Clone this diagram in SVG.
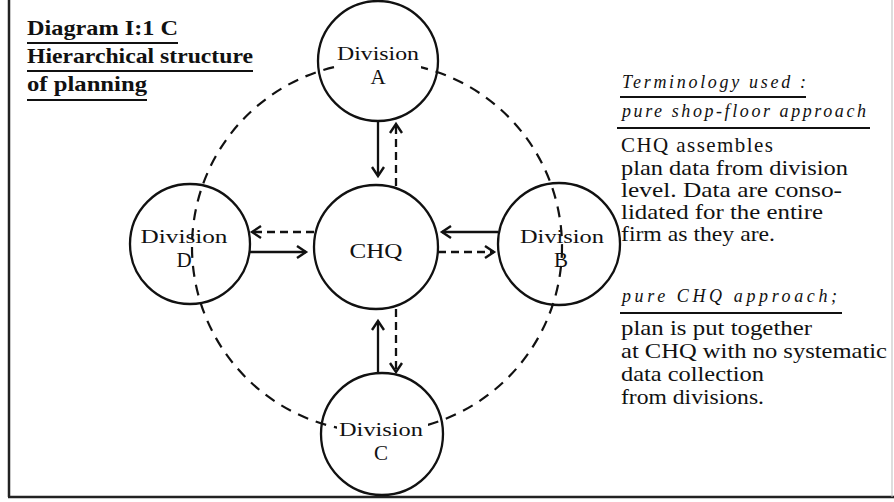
<svg xmlns="http://www.w3.org/2000/svg" width="894" height="502" viewBox="0 0 894 502">
<defs>
<marker id="ah" markerUnits="userSpaceOnUse" markerWidth="14" markerHeight="14" refX="11" refY="7" orient="auto">
<path d="M2,1 L11,7 L2,13" fill="none" stroke="#111" stroke-width="2.4" stroke-linejoin="miter"/>
</marker>
</defs>
<style>
text{font-family:"Liberation Serif","DejaVu Serif",serif;fill:#111}
.title{font-weight:bold;font-size:22px}
.node{font-size:19px;text-anchor:middle}
.let{font-size:21px;text-anchor:middle}
.body{font-size:21px}
.it{font-style:italic;font-size:18px}
.ul{stroke:#111;stroke-width:2.2}
.c{fill:none;stroke:#111;stroke-width:2.3}
.sol{stroke:#111;stroke-width:2.3;fill:none;marker-end:url(#ah)}
.dsh{stroke:#111;stroke-width:2.3;fill:none;stroke-dasharray:8 5;marker-end:url(#ah)}
</style>
<rect width="894" height="502" fill="#fff"/>
<!-- frame -->
<line x1="9" y1="0" x2="9" y2="497" stroke="#222" stroke-width="2.5"/>
<line x1="8" y1="497" x2="894" y2="497" stroke="#222" stroke-width="2.5"/>
<line x1="892" y1="0" x2="892" y2="497" stroke="#bbb" stroke-width="1"/>
<!-- title -->
<g id="title">
<text class="title" x="27" y="35" textLength="151" lengthAdjust="spacingAndGlyphs">Diagram I:1 C</text>
<line class="ul" x1="27" y1="43" x2="178" y2="43"/>
<text class="title" x="27" y="63" textLength="226" lengthAdjust="spacingAndGlyphs">Hierarchical structure</text>
<line class="ul" x1="27" y1="71" x2="253" y2="71"/>
<text class="title" x="27" y="91" textLength="120" lengthAdjust="spacingAndGlyphs">of planning</text>
<line class="ul" x1="27" y1="100" x2="147" y2="100"/>
</g>
<!-- big dashed ring -->
<g id="ring">
<circle cx="377" cy="247" r="185" fill="none" stroke="#111" stroke-width="2.2" stroke-dasharray="11 8"/>
<rect x="338" y="55" width="83" height="22" fill="#fff"/>
<rect x="337" y="418" width="91" height="22" fill="#fff"/>
</g>
<g id="divA">
<circle class="c" cx="378" cy="61" r="60"/>
<text class="node" x="378" y="60" textLength="82" lengthAdjust="spacingAndGlyphs">Division</text>
<text class="let" x="378" y="84">A</text>
</g>
<g id="chq">
<circle class="c" cx="376" cy="247" r="62"/>
<text class="node" x="376" y="258" textLength="53" lengthAdjust="spacingAndGlyphs" style="font-size:21px">CHQ</text>
</g>
<g id="divD">
<circle class="c" cx="190" cy="244" r="60"/>
<text class="node" x="184" y="243" textLength="87" lengthAdjust="spacingAndGlyphs">Division</text>
<text class="let" x="184" y="267">D</text>
</g>
<g id="divB">
<circle class="c" cx="559" cy="244" r="61"/>
<text class="node" x="562" y="243" textLength="84" lengthAdjust="spacingAndGlyphs">Division</text>
<text class="let" x="561" y="267">B</text>
</g>
<g id="divC">
<circle class="c" cx="382" cy="434" r="61"/>
<text class="node" x="381" y="436" textLength="84" lengthAdjust="spacingAndGlyphs">Division</text>
<text class="let" x="381" y="460">C</text>
</g>
<!-- connectors -->
<g id="connectors">
<line class="sol" x1="378" y1="121" x2="378" y2="176"/>
<line class="dsh" x1="396" y1="186" x2="396" y2="124"/>
<line class="sol" x1="378" y1="373" x2="378" y2="321"/>
<line class="dsh" x1="396" y1="309" x2="396" y2="372"/>
<line class="dsh" x1="314" y1="232" x2="252" y2="232"/>
<line class="sol" x1="250" y1="252" x2="306" y2="252"/>
<line class="sol" x1="498" y1="232" x2="442" y2="232"/>
<line class="dsh" x1="438" y1="252" x2="494" y2="252"/>
</g>
<!-- terminology -->
<g id="terminology">
<text class="it" x="622" y="88" textLength="184" lengthAdjust="spacing">Terminology used :</text>
<line class="ul" x1="620" y1="97" x2="806" y2="97" stroke-width="1.6"/>
<text class="it" x="622" y="117" textLength="244" lengthAdjust="spacing">pure shop-floor approach</text>
<line class="ul" x1="617" y1="128" x2="870" y2="128"/>
<text class="body" x="621" y="152" textLength="152" lengthAdjust="spacing">CHQ  assembles</text>
<text class="body" x="621" y="175" textLength="227" lengthAdjust="spacingAndGlyphs">plan data from division</text>
<text class="body" x="621" y="197" textLength="221" lengthAdjust="spacingAndGlyphs">level. Data are conso-</text>
<text class="body" x="621" y="219" textLength="202" lengthAdjust="spacingAndGlyphs">lidated for the entire</text>
<text class="body" x="621" y="241" textLength="154" lengthAdjust="spacingAndGlyphs">firm as they are.</text>
<text class="it" x="622" y="302" textLength="215" lengthAdjust="spacing">pure CHQ approach;</text>
<line class="ul" x1="620" y1="313" x2="842" y2="313"/>
<text class="body" x="621" y="335" textLength="191" lengthAdjust="spacingAndGlyphs">plan is put together</text>
<text class="body" x="621" y="358" textLength="266" lengthAdjust="spacingAndGlyphs">at CHQ with no systematic</text>
<text class="body" x="621" y="381" textLength="143" lengthAdjust="spacingAndGlyphs">data collection</text>
<text class="body" x="621" y="404" textLength="143" lengthAdjust="spacingAndGlyphs">from divisions.</text>
</g>
</svg>
